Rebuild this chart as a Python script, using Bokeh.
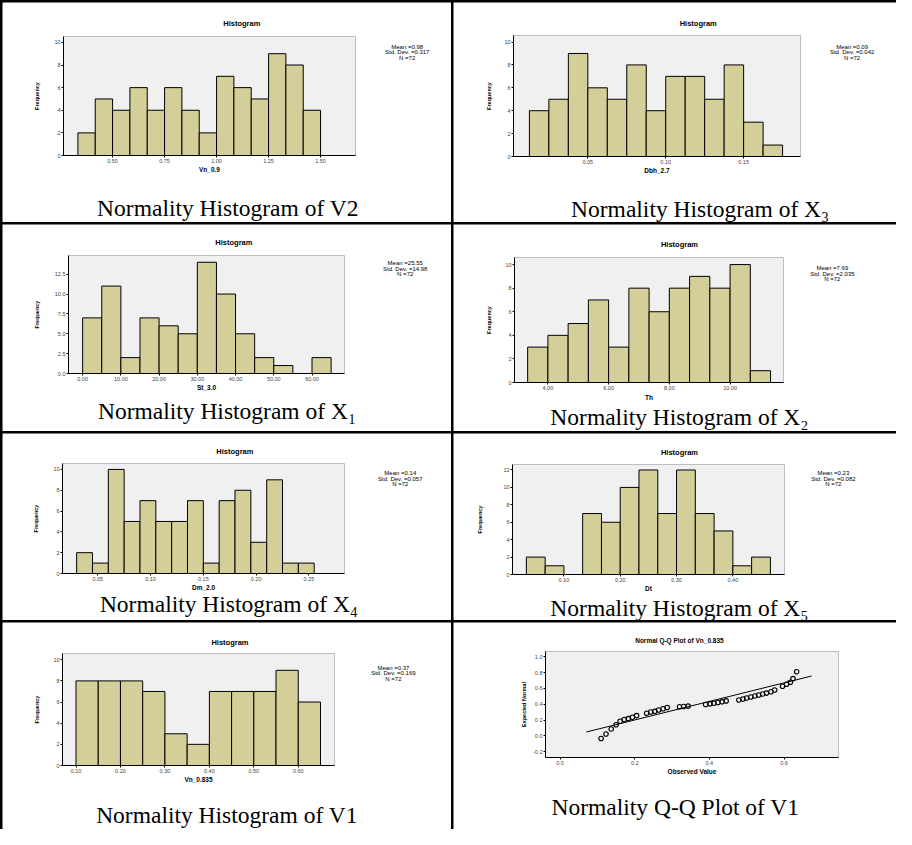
from bokeh.plotting import figure
from bokeh.layouts import row, column
from bokeh.models import Label, Range1d, FixedTicker, PrintfTickFormatter, BoxAnnotation
from bokeh.embed import file_html
from bokeh.resources import INLINE

# ---------------- data ----------------
v2_edges = [0.3333, 0.4167, 0.5, 0.5833, 0.6667, 0.75, 0.8333, 0.9167, 1.0,
            1.0833, 1.1667, 1.25, 1.3333, 1.4167, 1.5]
v2_counts = [2, 5, 4, 6, 4, 6, 4, 2, 7, 6, 5, 9, 8, 4]
v2_xticks = [0.5, 0.75, 1.0, 1.25, 1.5]
v2_yticks = [0, 2, 4, 6, 8, 10]
v2_stats = ["Mean =0.98", "Std. Dev. =0.317", "N =72"]

x3_edges = [0.0125, 0.025, 0.0375, 0.05, 0.0625, 0.075, 0.0875, 0.1, 0.1125,
            0.125, 0.1375, 0.15, 0.1625, 0.175]
x3_counts = [4, 5, 9, 6, 5, 8, 4, 7, 7, 5, 8, 3, 1]
x3_xticks = [0.05, 0.10, 0.15]
x3_yticks = [0, 2, 4, 6, 8, 10]
x3_stats = ["Mean =0.09", "Std. Dev. =0.042", "N =72"]

x1_edges = [0, 5, 10, 15, 20, 25, 30, 35, 40, 45, 50, 55, 60, 65]
x1_counts = [7, 11, 2, 7, 6, 5, 14, 10, 5, 2, 1, 0, 2]
x1_xticks = [0, 10, 20, 30, 40, 50, 60]
x1_yticks = [0.0, 2.5, 5.0, 7.5, 10.0, 12.5]
x1_stats = ["Mean =25.55", "Std. Dev. =14.98", "N =72"]

x2_edges = [3.3333, 4.0, 4.6667, 5.3333, 6.0, 6.6667, 7.3333, 8.0, 8.6667,
            9.3333, 10.0, 10.6667, 11.3333]
x2_counts = [3, 4, 5, 7, 3, 8, 6, 8, 9, 8, 10, 1]
x2_xticks = [4, 6, 8, 10]
x2_yticks = [0, 2, 4, 6, 8, 10]
x2_stats = ["Mean =7.69", "Std. Dev. =2.035", "N =72"]

x4_edges = [0.03, 0.045, 0.06, 0.075, 0.09, 0.105, 0.12, 0.135, 0.15, 0.165,
            0.18, 0.195, 0.21, 0.225, 0.24, 0.255]
x4_counts = [2, 1, 10, 5, 7, 5, 5, 7, 1, 7, 8, 3, 9, 1, 1]
x4_xticks = [0.05, 0.10, 0.15, 0.20, 0.25]
x4_yticks = [0, 2, 4, 6, 8, 10]
x4_stats = ["Mean =0.14", "Std. Dev. =0.057", "N =72"]

x5_edges = [0.0333, 0.0667, 0.1, 0.1333, 0.1667, 0.2, 0.2333, 0.2667, 0.3,
            0.3333, 0.3667, 0.4, 0.4333, 0.4667]
x5_counts = [2, 1, 0, 7, 6, 10, 12, 7, 12, 7, 5, 1, 2]
x5_xticks = [0.10, 0.20, 0.30, 0.40]
x5_yticks = [0, 2, 4, 6, 8, 10, 12]
x5_stats = ["Mean =0.23", "Std. Dev. =0.082", "N =72"]

v1_edges = [0.10, 0.15, 0.20, 0.25, 0.30, 0.35, 0.40, 0.45, 0.50, 0.55, 0.60, 0.65]
v1_counts = [8, 8, 8, 7, 3, 2, 7, 7, 7, 9, 6]
v1_xticks = [0.10, 0.20, 0.30, 0.40, 0.50, 0.60]
v1_yticks = [0, 2, 4, 6, 8, 10]
v1_stats = ["Mean =0.37", "Std. Dev. =0.169", "N =72"]

qq_observed = [0.110, 0.123, 0.137, 0.150, 0.161, 0.172, 0.183, 0.194, 0.205,
               0.232, 0.243, 0.254, 0.264, 0.276, 0.287, 0.320, 0.331, 0.343,
               0.390, 0.402, 0.412, 0.423, 0.434, 0.445, 0.479, 0.490, 0.500,
               0.511, 0.522, 0.532, 0.543, 0.553, 0.565, 0.575, 0.596, 0.607,
               0.617, 0.624, 0.634]
qq_expected = [-0.033, 0.025, 0.087, 0.141, 0.186, 0.207, 0.219, 0.236, 0.257,
               0.286, 0.302, 0.311, 0.327, 0.344, 0.360, 0.369, 0.373, 0.377,
               0.398, 0.406, 0.414, 0.422, 0.431, 0.443, 0.455, 0.468, 0.480,
               0.493, 0.505, 0.518, 0.530, 0.542, 0.559, 0.580, 0.629, 0.654,
               0.679, 0.725, 0.812]
qq_line_x = [0.0705, 0.674]
qq_line_y = [0.0497, 0.758]
qq_xticks = [0.0, 0.2, 0.4, 0.6]
qq_yticks = [-0.2, 0.0, 0.2, 0.4, 0.6, 0.8, 1.0]

# ---------------- style ----------------
BAR_FILL = "#d4cf99"
FRAME_FILL = "#f0f0f0"
SANS = "Liberation Sans"
SERIF = "Liberation Serif"


def geometry(ref_w, ref_h, w, h, frame):
    L, T, R, B = frame
    fx, fy = w / ref_w, h / ref_h
    return dict(fx=fx, fy=fy, L=round(L * fx), T=round(T * fy),
                R=round(R * fx), B=round(B * fy), w=w, h=h)


def cell_figure(g, xr, yr):
    # the plotting frame covers the whole table cell; axes sit at fixed locations
    # at the edges of the grey plot area, which is drawn as a box annotation.
    x0, x1 = xr
    y0, y1 = yr
    dx = (x1 - x0) / (g["R"] - g["L"])
    dy = (y1 - y0) / (g["B"] - g["T"])
    p = figure(width=g["w"], height=g["h"],
               x_range=Range1d(x0 - g["L"] * dx, x1 + (g["w"] - g["R"]) * dx),
               y_range=Range1d(y0 - (g["h"] - g["B"]) * dy, y1 + g["T"] * dy),
               output_backend="svg", toolbar_location=None, min_border=0)
    p.title.visible = False
    p.background_fill_color = "white"
    p.border_fill_color = "white"
    p.outline_line_color = None
    p.grid.visible = False
    p.add_layout(BoxAnnotation(left=x0, right=x1, bottom=y0, top=y1, fill_color=FRAME_FILL,
                               fill_alpha=1.0, line_color="#3a3a3a", line_width=1,
                               level="underlay"))
    p.xaxis.fixed_location = y0
    p.yaxis.fixed_location = x0
    p.xaxis.bounds = (x0, x1)
    p.yaxis.bounds = (y0, y1)
    return p


def add_label(p, g, X, Y, text, size, font=SANS, style="normal",
              align="center", baseline="middle", line_height=1.0):
    p.add_layout(Label(x=X * g["fx"], y=g["h"] - Y * g["fy"],
                       x_units="screen", y_units="screen", text=text,
                       text_font=font, text_font_size=f"{size}px",
                       text_font_style=style, text_align=align,
                       text_baseline=baseline, text_color="black",
                       text_line_height=line_height))


def style_axes(p, xlabel, ylabel, xticks, yticks, xfmt, yfmt, xdist, ydist, ytick_w):
    for ax in (p.xaxis[0], p.yaxis[0]):
        ax.axis_line_color = "black"
        ax.axis_line_width = 1
        ax.major_tick_line_color = "black"
        ax.major_tick_out = 2
        ax.major_tick_in = 0
        ax.minor_tick_line_color = None
        ax.major_label_text_font = SANS
        ax.major_label_text_font_size = "5.5px"
        ax.major_label_standoff = 1
        ax.axis_label_text_color = "black"
    p.xaxis.ticker = FixedTicker(ticks=xticks)
    p.yaxis.ticker = FixedTicker(ticks=yticks)
    p.xaxis.formatter = PrintfTickFormatter(format=xfmt)
    p.yaxis.formatter = PrintfTickFormatter(format=yfmt)
    p.xaxis.axis_label = xlabel
    p.xaxis.axis_label_text_font = SANS
    p.xaxis.axis_label_text_font_size = "6.5px"
    p.xaxis.axis_label_text_font_style = "bold"
    p.xaxis.axis_label_standoff = max(0, round(xdist - 2 - 1 - 6.5 - 3.75))
    p.yaxis.axis_label = ylabel
    p.yaxis.axis_label_text_font = SANS
    p.yaxis.axis_label_text_font_size = "5.5px"
    p.yaxis.axis_label_text_font_style = "bold"
    p.yaxis.axis_label_standoff = max(0, round(ydist - 3 - ytick_w - 3.5))


def hist_cell(ref, size, frame, xr, yr, edges, counts, xticks, yticks, xfmt, yfmt,
              xlabel, stats, title_pos, stats_pos, caption, cap_pos, xdist, ydist, ytick_w):
    g = geometry(ref[0], ref[1], size[0], size[1], frame)
    p = cell_figure(g, xr, yr)
    p.quad(left=edges[:-1], right=edges[1:], bottom=0, top=counts,
           fill_color=BAR_FILL, line_color="black", line_width=1)
    style_axes(p, xlabel, "Frequency", xticks, yticks, xfmt, yfmt, xdist, ydist, ytick_w)
    add_label(p, g, title_pos[0], title_pos[1], "Histogram", 7.5, style="bold")
    add_label(p, g, stats_pos[0], stats_pos[1], "\n".join(stats), 6,
              baseline="top", line_height=0.95)
    add_label(p, g, cap_pos[0], cap_pos[1], caption, 23.5, font=SERIF)
    return p


# positions: (x, y) centres in reference-cell pixels
c1 = hist_cell((456, 224), (449, 220), (62, 35, 358, 156), (0.264, 1.668), (0, 10.52),
               v2_edges, v2_counts, v2_xticks, v2_yticks, "%.2f", "%d", "Vn_0.9", v2_stats,
               (243, 21), (411, 42), "Normality Histogram of V2", (229, 209), 13, 24, 6.1)
c2 = hist_cell((449, 224), (443, 220), (61, 34, 352, 157), (0.0023, 0.1865), (0, 10.57),
               x3_edges, x3_counts, x3_xticks, x3_yticks, "%.2f", "%d", "Dbh_2.7", x3_stats,
               (248, 21), (404, 42), "Normality Histogram of X\u2083", (250, 210), 11, 22, 6.1)
c3 = hist_cell((456, 210), (449, 207), (67, 31, 347, 151), (-3.7, 68.5), (0, 14.85),
               x1_edges, x1_counts, x1_xticks, x1_yticks, "%.2f", "%.1f", "St_3.0", x1_stats,
               (235, 18), (409, 36), "Normality Histogram of X\u2081", (228, 189), 9, 29, 10.6)
c4 = hist_cell((449, 210), (443, 207), (62, 33, 334, 160), (2.9, 11.76), (0, 10.6),
               x2_edges, x2_counts, x2_xticks, x2_yticks, "%.2f", "%d", "Th", x2_stats,
               (229, 20), (384, 41), "Normality Histogram of X\u2082", (229, 195), 14, 23, 6.1)
c5 = hist_cell((456, 190), (449, 187), (61, 30, 347, 142), (0.0166, 0.2837), (0, 10.57),
               x4_edges, x4_counts, x4_xticks, x4_yticks, "%.2f", "%d", "Dm_2.0", x4_stats,
               (236, 18), (404, 37), "Normality Histogram of X\u2084", (230, 173), 12, 24, 6.1)
c6 = hist_cell((449, 190), (443, 187), (60, 31, 335, 143), (0.0087, 0.4917), (0, 12.63),
               x5_edges, x5_counts, x5_xticks, x5_yticks, "%.2f", "%d", "Dt", x5_stats,
               (229, 19), (385, 37), "Normality Histogram of X\u2085", (229, 177), 13, 30, 6.1)
c7 = hist_cell((456, 211), (449, 207), (61, 32, 337, 146), (0.0696, 0.6815), (0, 10.59),
               v1_edges, v1_counts, v1_xticks, v1_yticks, "%.2f", "%d", "Vn_0.835", v1_stats,
               (231, 20), (397, 43), "Normality Histogram of V1", (228, 196), 9, 23, 6.1)

# Q-Q plot cell
gq = geometry(449, 211, 443, 207, (93, 30, 390, 138))
c8 = cell_figure(gq, (-0.039, 0.746), (-0.273, 1.068))
c8.line(qq_line_x, qq_line_y, line_color="black", line_width=1)
c8.scatter(qq_observed, qq_expected, marker="circle", size=4.5, fill_color=None,
           line_color="black", line_width=1.1)
style_axes(c8, "Observed Value", "Expected Normal", qq_xticks, qq_yticks, "%.1f", "%.1f",
           10, 19, 9.4)
add_label(c8, gq, 229, 18, "Normal Q-Q Plot of Vn_0.835", 6.5, style="bold")
add_label(c8, gq, 225, 188, "Normality Q-Q Plot of V1", 23.5, font=SERIF)

layout = column(
    row(c1, c2, spacing=2),
    row(c3, c4, spacing=2),
    row(c5, c6, spacing=2),
    row(c7, c8, spacing=2),
    spacing=2,
    styles={"background-color": "black", "padding": "2px 0px 0px 2px"},
)

open("out.html", "w").write(file_html(layout, INLINE))
